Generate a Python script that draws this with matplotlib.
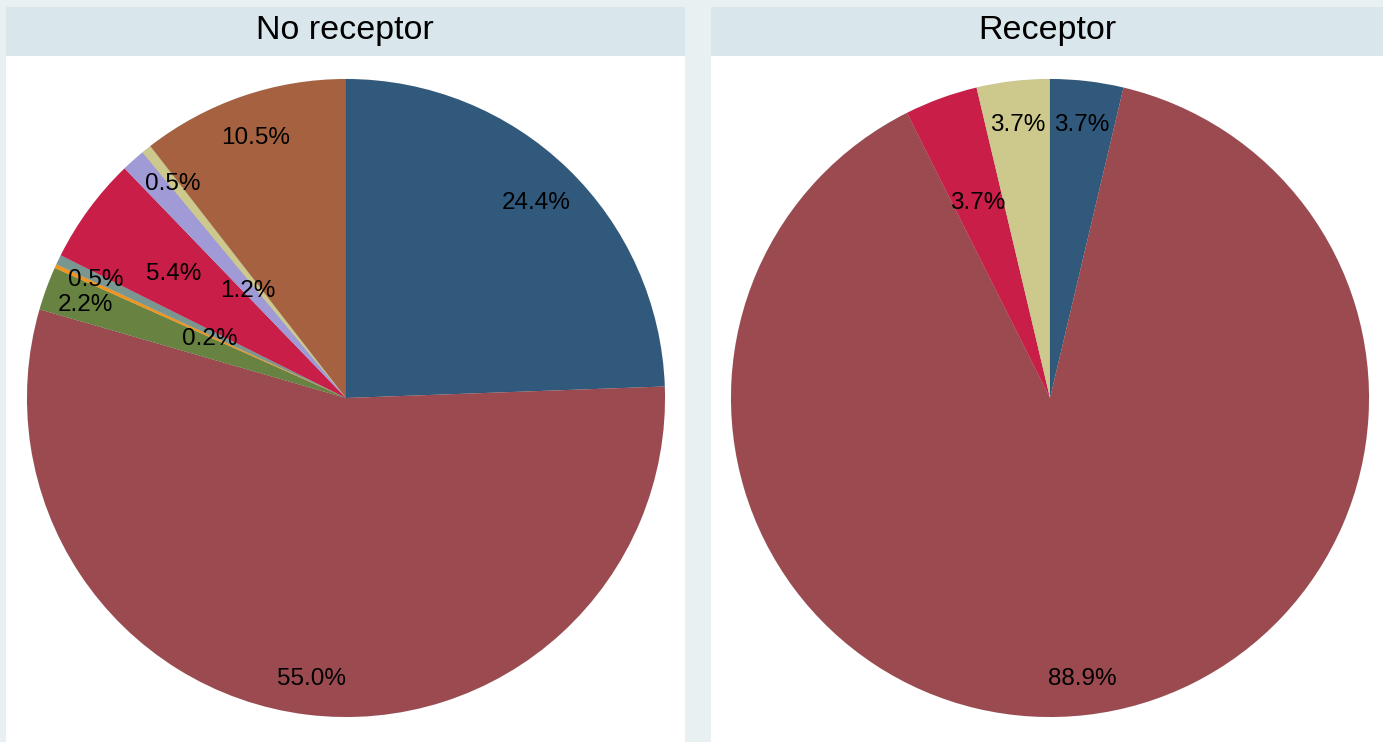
import matplotlib
matplotlib.use("Agg")
import matplotlib.pyplot as plt
from matplotlib.patches import Rectangle
import numpy as np

# ---- data ----
categories = ["Cat A", "Cat B", "Cat C", "Cat D", "Cat E", "Cat F", "Cat G", "Cat H", "Cat I"]
no_receptor = [24.4, 55.0, 2.2, 0.2, 0.5, 5.4, 1.2, 0.5, 10.5]
receptor_cats = ["Cat A", "Cat B", "Cat F", "Cat H"]
receptor = [3.7, 88.9, 3.7, 3.7]
panel_titles = ["No receptor", "Receptor"]

# ---- style ----
cat_colors = {
    "Cat A": "#30597C", "Cat B": "#9B4A50", "Cat C": "#688241",
    "Cat D": "#F0961E", "Cat E": "#7A9691", "Cat F": "#C81E48",
    "Cat G": "#A09BD7", "Cat H": "#CDC88C", "Cat I": "#A66240",
}
label_dist_no = [0.86, 0.88, 0.87, 0.47, 0.87, 0.67, 0.46, 0.87, 0.87]
label_dist_rec = [0.87, 0.88, 0.66, 0.87]

W, H = 1383, 742
fig = plt.figure(figsize=(W / 100, H / 100), dpi=100)
fig.patch.set_facecolor("#E8F0F2")
font = ["Liberation Sans", "DejaVu Sans"]


def px_rect(x0, y0, x1, y1):
    return [x0 / W, 1 - y1 / H, (x1 - x0) / W, (y1 - y0) / H]


bg = fig.add_axes([0, 0, 1, 1])
bg.set_xlim(0, W)
bg.set_ylim(H, 0)
bg.axis("off")
panels = [(5.5, 685), (711, 1383)]
for (x0, x1), title in zip(panels, panel_titles):
    bg.add_patch(Rectangle((x0, 7), x1 - x0, H - 7, facecolor="white", edgecolor="none"))
    bg.add_patch(Rectangle((x0, 7), x1 - x0, 49, facecolor="#D9E6EC", edgecolor="none"))
    bg.text((x0 + x1) / 2, 31, title, ha="center", va="center", fontsize=24.5,
            family=font, color="black")


def draw_pie(cx, cy, r, values, cats, dists):
    ax = fig.add_axes(px_rect(cx - r, cy - r, cx + r, cy + r))
    wedges, _ = ax.pie(values, colors=[cat_colors[c] for c in cats], startangle=90,
                       counterclock=False, radius=1.0,
                       wedgeprops=dict(linewidth=0.4, edgecolor="#00000010"))
    for w, v, d in zip(wedges, values, dists):
        ang = np.deg2rad((w.theta1 + w.theta2) / 2)
        ax.text(d * np.cos(ang), d * np.sin(ang) - 0.008, f"{v:.1f}%", ha="center",
                va="center", fontsize=17.5, family=font, color="black")
    ax.set_xlim(-1, 1)
    ax.set_ylim(-1, 1)
    ax.set_aspect("equal")
    ax.axis("off")


draw_pie(346, 398, 319, no_receptor, categories, label_dist_no)
draw_pie(1050, 398, 319, receptor, receptor_cats, label_dist_rec)

fig.savefig("out.png", dpi=100, facecolor=fig.get_facecolor())
